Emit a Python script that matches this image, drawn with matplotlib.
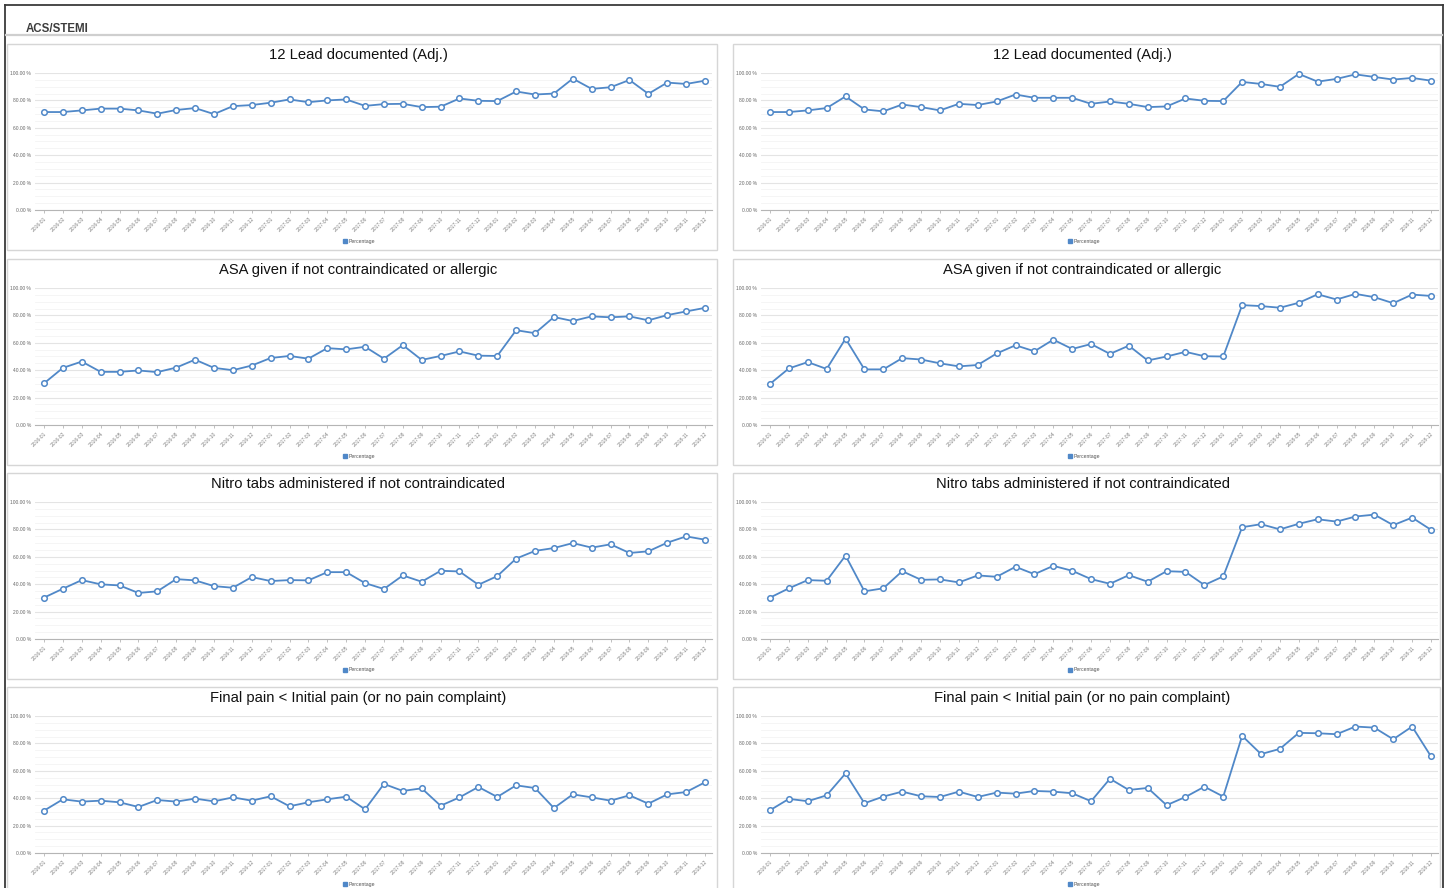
import matplotlib
matplotlib.use("Agg")
import matplotlib.pyplot as plt
from matplotlib.patches import Rectangle
from matplotlib.lines import Line2D
from matplotlib.ticker import FixedLocator, MultipleLocator

plt.rcParams['font.family'] = ['Liberation Sans', 'DejaVu Sans']

months = ["2016-01", "2016-02", "2016-03", "2016-04", "2016-05", "2016-06",
          "2016-07", "2016-08", "2016-09", "2016-10", "2016-11", "2016-12",
          "2017-01", "2017-02", "2017-03", "2017-04", "2017-05", "2017-06",
          "2017-07", "2017-08", "2017-09", "2017-10", "2017-11", "2017-12",
          "2018-01", "2018-02", "2018-03", "2018-04", "2018-05", "2018-06",
          "2018-07", "2018-08", "2018-09", "2018-10", "2018-11", "2018-12"]

yticks = [0, 20, 40, 60, 80, 100]
ytick_labels = ["0.00 %", "20.00 %", "40.00 %", "60.00 %", "80.00 %", "100.00 %"]

header = "ACS/STEMI"
titles = ["12 Lead documented (Adj.)",
          "ASA given if not contraindicated or allergic",
          "Nitro tabs administered if not contraindicated",
          "Final pain < Initial pain (or no pain complaint)"]
legend_label = "Percentage"

lead_left = [71.5, 71.5, 72.7, 74.0, 74.0, 72.7, 70.3, 73.0, 74.4, 70.0, 75.8, 76.6,
             78.3, 80.7, 78.7, 80.0, 80.7, 76.0, 77.3, 77.5, 75.1, 75.4, 81.4, 79.7,
             79.5, 86.5, 84.3, 85.0, 95.9, 88.4, 89.6, 94.9, 84.8, 93.0, 92.0, 94.4]
lead_right = [71.5, 71.5, 72.7, 74.4, 82.9, 73.4, 72.0, 77.0, 75.1, 72.7, 77.5, 76.6,
              79.2, 84.3, 81.9, 81.9, 81.9, 77.5, 79.2, 77.5, 75.1, 75.6, 81.4, 79.7,
              79.5, 93.5, 92.0, 89.9, 99.3, 93.7, 95.7, 99.0, 97.1, 95.2, 96.4, 94.4]
asa_left = [30.4, 41.7, 46.3, 38.8, 38.8, 39.8, 38.6, 41.9, 47.7, 41.7, 40.0, 43.4,
            48.9, 50.4, 48.4, 56.1, 55.2, 57.1, 48.4, 58.3, 47.5, 50.4, 53.7, 50.6,
            50.4, 69.2, 67.0, 78.8, 75.9, 79.3, 78.6, 79.3, 76.4, 80.2, 82.9, 85.5]
asa_right = [30.0, 41.3, 45.9, 40.9, 63.0, 40.6, 40.6, 48.8, 47.8, 45.0, 42.8, 43.8,
             52.2, 58.2, 53.8, 62.3, 55.5, 59.1, 51.9, 57.9, 47.1, 50.0, 53.4, 50.2,
             50.0, 87.5, 86.8, 85.6, 89.2, 95.4, 91.6, 95.7, 93.3, 88.9, 95.2, 94.2]
nitro_left = [30.2, 36.7, 43.0, 39.9, 39.1, 33.6, 34.8, 43.7, 42.8, 38.6, 37.4, 45.2,
              42.3, 43.0, 42.8, 48.8, 48.8, 40.8, 36.5, 46.4, 41.8, 49.8, 49.3, 39.6,
              45.9, 58.7, 64.3, 66.4, 70.0, 66.7, 69.1, 62.8, 64.0, 70.3, 74.9, 72.5]
nitro_right = [30.2, 37.0, 43.0, 42.5, 60.9, 34.8, 37.0, 49.5, 43.2, 43.5, 41.3, 46.4,
               45.4, 52.7, 47.3, 53.4, 49.8, 43.7, 40.3, 46.6, 41.8, 49.5, 49.0, 39.4,
               45.7, 81.6, 83.8, 80.0, 84.1, 87.4, 85.7, 89.4, 90.8, 83.1, 88.6, 79.7]
pain_left = [30.9, 39.2, 37.5, 38.2, 37.0, 33.6, 38.7, 37.5, 39.7, 37.7, 40.6, 38.2,
             41.4, 34.1, 37.0, 39.2, 41.1, 31.9, 50.4, 45.3, 47.2, 34.5, 40.6, 48.2,
             40.9, 49.4, 47.4, 32.8, 42.8, 40.6, 38.2, 42.1, 36.0, 42.8, 44.5, 51.6]
pain_right = [31.2, 39.5, 37.8, 42.1, 58.1, 36.3, 41.2, 44.8, 41.4, 40.9, 44.8, 40.9,
              44.1, 43.3, 45.3, 44.8, 43.6, 37.8, 54.2, 46.0, 47.5, 34.9, 40.9, 48.4,
              41.2, 85.5, 72.2, 76.0, 87.7, 87.4, 86.7, 92.3, 91.5, 83.0, 92.3, 70.5]

series = [[lead_left, lead_right], [asa_left, asa_right],
          [nitro_left, nitro_right], [pain_left, pain_right]]

LINE = '#5088c8'
W, H = 1447, 888
fig = plt.figure(figsize=(W / 100, H / 100), dpi=100)
fig.patch.set_facecolor('white')


def fx(x):
    return x / W


def fy(y):
    return 1 - y / H


def hline(x0, x1, y, **kw):
    fig.add_artist(Line2D([fx(x0), fx(x1)], [fy(y), fy(y)], transform=fig.transFigure, **kw))


def vline(x, y0, y1, **kw):
    fig.add_artist(Line2D([fx(x), fx(x)], [fy(y0), fy(y1)], transform=fig.transFigure, **kw))


# outer frame
vline(5, 5, 888, color='#3a3a3a', lw=1.3)
hline(5, 1443, 5, color='#3a3a3a', lw=1.3)
vline(1443, 5, 888, color='#3a3a3a', lw=1.3)
fig.text(fx(26), fy(28.5), header, fontsize=8.3, fontweight='bold', color='#3d3d3d',
         va='center', ha='left')
hline(6, 1442, 35.5, color='#cfcfcf', lw=1.6)

row_tops = [44, 259, 473, 687]
col_lefts = [7, 733]
panel_w = [710, 707]
n = len(months)
xs = list(range(n))

for r, top in enumerate(row_tops):
    for c, left in enumerate(col_lefts):
        bottom = min(top + 206, 890)
        fig.add_artist(Rectangle((fx(left), fy(bottom)), fx(panel_w[c]), (bottom - top) / H,
                                 transform=fig.transFigure, fill=False, ec='#d6d6d6', lw=1.0))
        cx = left + panel_w[c] / 2
        fig.text(fx(cx - 4), fy(top + 11), titles[r], fontsize=10.6, color='#111111',
                 ha='center', va='center')

        # axes geometry in px
        ax_l = left + 28
        ax_r = left + 705
        first_pt = left + 37
        last_pt = left + 698
        step = (last_pt - first_pt) / (n - 1)
        y100 = top + 29
        y0 = top + 166
        ax = fig.add_axes([fx(ax_l), fy(y0), (ax_r - ax_l) / W, (y0 - y100) / H])
        ax.set_xlim(-(first_pt - ax_l) / step, (n - 1) + (ax_r - last_pt) / step)
        ax.set_ylim(0, 100)
        ax.yaxis.set_major_locator(FixedLocator(yticks))
        ax.yaxis.set_minor_locator(MultipleLocator(5))
        ax.set_yticks(yticks)
        ax.set_yticklabels(ytick_labels)
        ax.set_xticks(xs)
        ax.set_xticklabels(months, rotation=45, ha='right', rotation_mode='anchor')
        ax.grid(True, which='major', axis='y', color='#e4e4e4', lw=0.8)
        ax.grid(True, which='minor', axis='y', color='#f4f4f4', lw=0.6)
        ax.set_axisbelow(True)
        for s in ['top', 'right', 'left']:
            ax.spines[s].set_visible(False)
        ax.spines['bottom'].set_color('#b5b5b5')
        ax.spines['bottom'].set_linewidth(0.8)
        ax.tick_params(axis='y', which='both', length=0, labelsize=3.5, labelcolor='#666666', pad=3)
        ax.tick_params(axis='x', length=2.5, width=0.6, color='#b5b5b5', labelsize=3.6,
                       labelcolor='#808080', pad=2)
        ax.plot(xs, series[r][c], color=LINE, lw=1.3, marker='o', ms=4.0,
                mfc='white', mec=LINE, mew=1.1, clip_on=False, zorder=3)

        # legend
        ly = top + 197
        fig.add_artist(Line2D([fx(cx - 17)], [fy(ly)], transform=fig.transFigure,
                              marker='s', ms=2.4, color=LINE, lw=0))
        fig.text(fx(cx - 13), fy(ly), legend_label, fontsize=3.7, color='#555555',
                 ha='left', va='center')

fig.savefig('out.png', dpi=100)
